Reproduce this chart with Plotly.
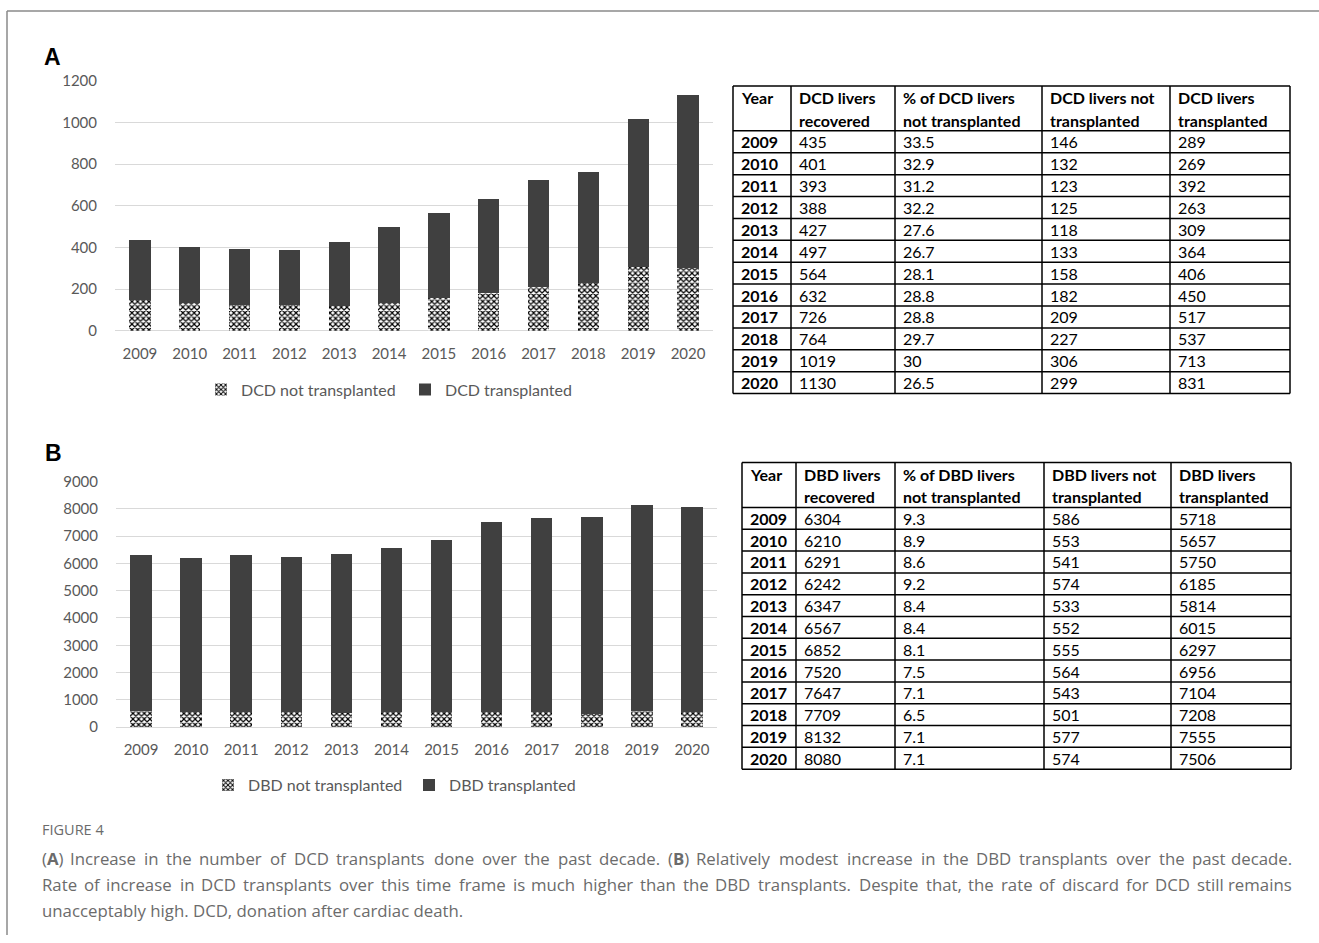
import plotly.graph_objects as go

W, H = 1319, 943

years = ["2009", "2010", "2011", "2012", "2013", "2014", "2015", "2016", "2017", "2018", "2019", "2020"]

# Panel A (DCD) table columns
dcd_recovered = ["435", "401", "393", "388", "427", "497", "564", "632", "726", "764", "1019", "1130"]
dcd_pct_not = ["33.5", "32.9", "31.2", "32.2", "27.6", "26.7", "28.1", "28.8", "28.8", "29.7", "30", "26.5"]
dcd_not_tx = [146, 132, 123, 125, 118, 133, 158, 182, 209, 227, 306, 299]
dcd_tx_table = ["289", "269", "392", "263", "309", "364", "406", "450", "517", "537", "713", "831"]
# Bar segment heights (stack top = recovered)
dcd_tx_bar = [289, 269, 270, 263, 309, 364, 406, 450, 517, 537, 713, 831]

# Panel B (DBD) table columns
dbd_recovered = ["6304", "6210", "6291", "6242", "6347", "6567", "6852", "7520", "7647", "7709", "8132", "8080"]
dbd_pct_not = ["9.3", "8.9", "8.6", "9.2", "8.4", "8.4", "8.1", "7.5", "7.1", "6.5", "7.1", "7.1"]
dbd_not_tx = [586, 553, 541, 574, 533, 552, 555, 564, 543, 501, 577, 574]
dbd_tx_table = ["5718", "5657", "5750", "6185", "5814", "6015", "6297", "6956", "7104", "7208", "7555", "7506"]
dbd_tx_bar = [5718, 5657, 5750, 5668, 5814, 6015, 6297, 6956, 7104, 7208, 7555, 7506]

dcd_headers = [["Year", ""], ["DCD livers", "recovered"], ["% of DCD livers", "not transplanted"],
               ["DCD livers not", "transplanted"], ["DCD livers", "transplanted"]]
dbd_headers = [["Year", ""], ["DBD livers", "recovered"], ["% of DBD livers", "not transplanted"],
               ["DBD livers not", "transplanted"], ["DBD livers", "transplanted"]]

caption_title = "FIGURE 4"
caption_lines = [
    "(A) Increase in the number of DCD transplants done over the past decade. (B) Relatively modest increase in the DBD transplants over the past decade.",
    "Rate of increase in DCD transplants over this time frame is much higher than the DBD transplants. Despite that, the rate of discard for DCD still remains",
    "unacceptably high. DCD, donation after cardiac death.",
]


def px(x):
    return x / W


def py(y):
    # vertical placement measured in target-image pixels
    return 1 - ((y - 9.0) / 0.982) / H


FONT = "Lato"
TFONT = "Lato"
CAPFONT = "Open Sans"
TICK = "#595959"
DARK = "#404040"
GRID = "#d9d9d9"
CAPCOL = "#6b6b6b"

pattern = dict(shape="x", fgcolor="black", bgcolor="white", size=4, solidity=0.5, fillmode="replace")

fig = go.Figure()

fig.add_trace(go.Bar(x=years, y=dcd_not_tx, name="DCD not transplanted", xaxis="x", yaxis="y",
                     marker=dict(color="white", pattern=pattern, line=dict(width=0)), legend="legend"))
fig.add_trace(go.Bar(x=years, y=dcd_tx_bar, name="DCD transplanted", xaxis="x", yaxis="y",
                     marker=dict(color=DARK, line=dict(width=0)), legend="legend"))
fig.add_trace(go.Bar(x=years, y=dbd_not_tx, name="DBD not transplanted", xaxis="x2", yaxis="y2",
                     marker=dict(color="white", pattern=pattern, line=dict(width=0)), legend="legend2"))
fig.add_trace(go.Bar(x=years, y=dbd_tx_bar, name="DBD transplanted", xaxis="x2", yaxis="y2",
                     marker=dict(color=DARK, line=dict(width=0)), legend="legend2"))

axis_common = dict(showline=False, tickfont=dict(family=FONT, size=15, color=TICK))
legend_common = dict(orientation="h", xanchor="left", yanchor="middle", traceorder="normal",
                     font=dict(family=FONT, size=16, color=TICK), itemwidth=30,
                     entrywidthmode="pixels", bgcolor="rgba(0,0,0,0)")
fig.update_layout(
    width=W, height=H, margin=dict(l=0, r=0, t=0, b=0),
    paper_bgcolor="white", plot_bgcolor="white",
    barmode="stack", bargap=0.57,
    font=dict(family=FONT),
    xaxis=dict(domain=[px(115), px(713)], anchor="y", ticks="outside", ticklen=9,
               tickcolor="rgba(0,0,0,0)", showgrid=False, **axis_common),
    yaxis=dict(domain=[py(330), py(80)], anchor="x", range=[0, 1200], dtick=200,
               ticks="outside", ticklen=14, tickcolor="rgba(0,0,0,0)",
               showgrid=True, gridcolor=GRID, gridwidth=1.3, zeroline=True, zerolinecolor=GRID,
               zerolinewidth=1.3, **axis_common),
    xaxis2=dict(domain=[px(116), px(717)], anchor="y2", ticks="outside", ticklen=9,
                tickcolor="rgba(0,0,0,0)", showgrid=False, **axis_common),
    yaxis2=dict(domain=[py(727), py(481)], anchor="x2", range=[0, 9000], dtick=1000,
                ticks="outside", ticklen=14, tickcolor="rgba(0,0,0,0)",
                showgrid=True, gridcolor=GRID, gridwidth=1.3, zeroline=True, zerolinecolor=GRID,
                zerolinewidth=1.3, **axis_common),
    legend=dict(x=px(201), y=py(389), entrywidth=159, **legend_common),
    legend2=dict(x=px(208), y=py(785), entrywidth=156, **legend_common),
)

# Frame
fig.add_shape(type="line", xref="paper", yref="paper", x0=px(7), x1=1, y0=py(10), y1=py(10),
              line=dict(color="#8a8a8a", width=1.5))
fig.add_shape(type="line", xref="paper", yref="paper", x0=px(7), x1=px(7), y0=py(10), y1=0,
              line=dict(color="#8a8a8a", width=1.5))


def hline(x0, x1, y):
    fig.add_shape(type="line", xref="paper", yref="paper", x0=px(x0), x1=px(x1), y0=py(y), y1=py(y),
                  line=dict(color="black", width=1.5))


def vline(x, y0, y1):
    fig.add_shape(type="line", xref="paper", yref="paper", x0=px(x), x1=px(x), y0=py(y0), y1=py(y1),
                  line=dict(color="black", width=1.5))


def text(s, x, y, size=16, color="black", family=TFONT, anchor="left"):
    fig.add_annotation(text=s, xref="paper", yref="paper", x=px(x), y=py(y), xanchor=anchor,
                       yanchor="middle", showarrow=False, font=dict(family=family, size=size, color=color))


def draw_table(headers, columns, xb, top, head_h, bottom):
    n = len(years)
    rh = (bottom - top - head_h) / n
    ys = [top, top + head_h] + [top + head_h + rh * (i + 1) for i in range(n)]
    for y in ys:
        hline(xb[0], xb[-1], y)
    for x in xb:
        vline(x, top, bottom)
    for c, (l1, l2) in enumerate(headers):
        text("<b>%s</b>" % l1, xb[c] + 6, top + 12)
        if l2:
            text("<b>%s</b>" % l2, xb[c] + 6, top + 34.5)
    for r in range(n):
        yc = top + head_h + rh * (r + 0.5)
        for c, col in enumerate(columns):
            val = str(col[r])
            if c == 0:
                val = "<b>%s</b>" % val
            text(val, xb[c] + 6, yc)


draw_table(dcd_headers, [years, dcd_recovered, dcd_pct_not, dcd_not_tx, dcd_tx_table],
           [733, 791, 895, 1042, 1170, 1290], 85, 45, 393)
draw_table(dbd_headers, [years, dbd_recovered, dbd_pct_not, dbd_not_tx, dbd_tx_table],
           [742, 796, 895, 1044, 1171, 1291], 462, 45, 769)

# Panel labels
text("<b>A</b>", 42, 56, size=23, family="Liberation Sans")
text("<b>B</b>", 43, 452, size=23, family="Liberation Sans")

# Caption (justified lines 1-2)
OS = {" ": 532, "a": 1139, "b": 1255, "c": 975, "d": 1255, "e": 1149, "f": 694, "g": 1122, "h": 1257,
      "i": 518, "j": 518, "k": 1075, "l": 518, "m": 1905, "n": 1257, "o": 1237, "p": 1255, "q": 1255,
      "r": 836, "s": 977, "t": 723, "u": 1257, "v": 1026, "w": 1593, "x": 1073, "y": 1028, "z": 977,
      "A": 1296, "B": 1327, "C": 1292, "D": 1493, "R": 1276, "I": 571, "(": 584, ")": 584, ".": 545,
      ",": 497}
CAP_SIZE = 16.8


def natural_width(s):
    return sum(OS.get(ch, 1150) for ch in s) / 2048 * CAP_SIZE * 1.02


def bold_letters(w):
    return w.replace("(A)", "(<b>A</b>)").replace("(B)", "(<b>B</b>)")


text(caption_title, 40, 829, size=14.5, color=CAPCOL, family=CAPFONT)
left, right = 40, 1294
for i, line in enumerate(caption_lines):
    y = 858 + 26 * i
    if i == len(caption_lines) - 1:
        text(bold_letters(line), left, y, size=CAP_SIZE, color=CAPCOL, family=CAPFONT)
        continue
    words = line.split(" ")
    nat = sum(natural_width(w) for w in words)
    gap = (right - left - nat) / (len(words) - 1)
    x = left
    for j, w in enumerate(words):
        if j == len(words) - 1:
            text(bold_letters(w), right, y, size=CAP_SIZE, color=CAPCOL, family=CAPFONT, anchor="right")
        else:
            text(bold_letters(w), x, y, size=CAP_SIZE, color=CAPCOL, family=CAPFONT)
        x += natural_width(w) + gap

fig.write_html("out.html", config={"displayModeBar": False},
               post_script="document.body.style.margin='0px';")
